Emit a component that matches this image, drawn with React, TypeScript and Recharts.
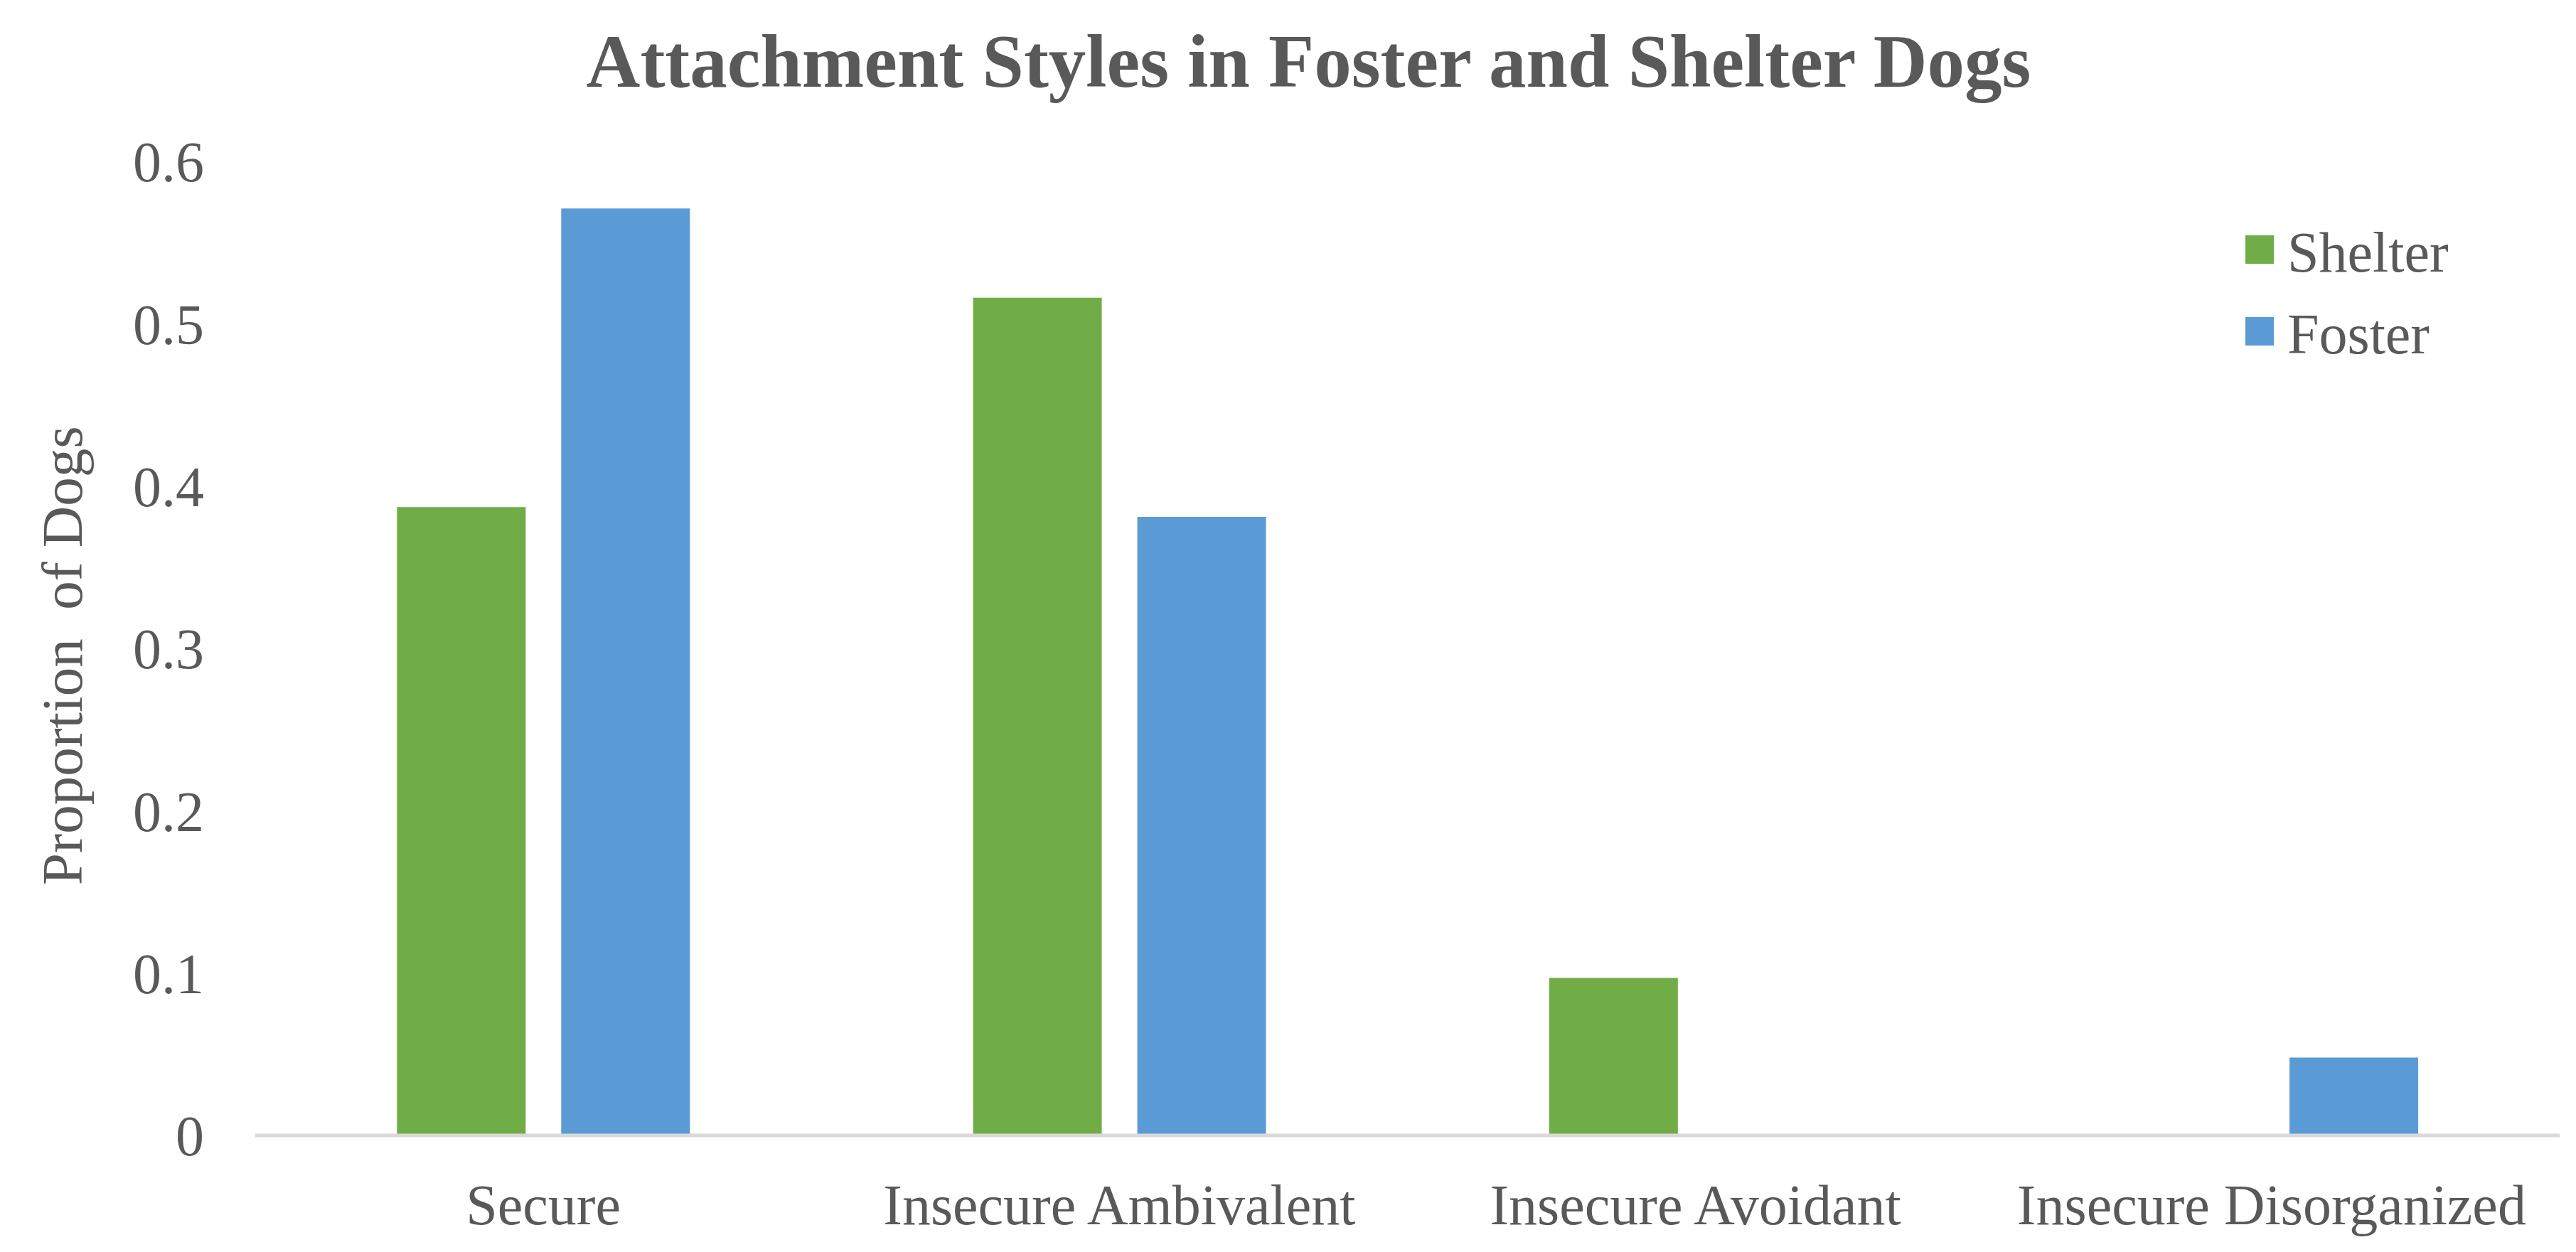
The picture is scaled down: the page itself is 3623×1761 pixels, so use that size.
import React from 'react';
import { BarChart, Bar, XAxis, YAxis, Legend, Label } from 'recharts';

const categories = ['Secure', 'Insecure Ambivalent', 'Insecure Avoidant', 'Insecure Disorganized'];
const shelterValues = [0.387, 0.516, 0.097, 0];
const fosterValues = [0.571, 0.381, 0, 0.048];
const yTicks = [0, 0.1, 0.2, 0.3, 0.4, 0.5, 0.6];
const seriesNames = { shelter: 'Shelter', foster: 'Foster' };
const legendOrder = ['Shelter', 'Foster'];
const titleText = 'Attachment Styles in Foster and Shelter Dogs';
const yLabelText = 'Proportion  of Dogs';

const data = categories.map((c, i) => ({
  category: c,
  shelter: shelterValues[i],
  foster: fosterValues[i],
}));

const FONT = '"Liberation Serif", "Times New Roman", serif';
const TEXT = '#595959';
const GREEN = '#70AD47';
const BLUE = '#5B9BD5';

const renderLegend = (props: any) => {
  const payload = [...(props.payload || [])].sort(
    (a: any, b: any) => legendOrder.indexOf(a.value) - legendOrder.indexOf(b.value)
  );
  return (
    <div style={{ fontFamily: FONT, fontSize: 80, color: TEXT }}>
      {payload.map((entry: any) => (
        <div
          key={entry.value}
          style={{ display: 'flex', alignItems: 'center', height: 115, lineHeight: '115px', whiteSpace: 'nowrap' }}
        >
          <span
            style={{
              display: 'inline-block',
              width: 40,
              height: 40,
              background: entry.color,
              marginRight: 19,
              marginTop: -10,
            }}
          />
          <span>{entry.value}</span>
        </div>
      ))}
    </div>
  );
};

const YLabel = (props: any) => {
  const vb = props.viewBox || { x: 0, y: 0, width: 0, height: 0 };
  const cx = vb.x + 80;
  const cy = vb.y + vb.height / 2 + 10;
  return (
    <text
      x={cx}
      y={cy}
      transform={`rotate(-90, ${cx}, ${cy})`}
      textAnchor="middle"
      dominantBaseline="central"
      fill={TEXT}
      fontFamily={FONT}
      fontSize={81}
      style={{ whiteSpace: 'pre' }}
    >
      {yLabelText}
    </text>
  );
};

export default function App() {
  return (
    <div style={{ position: 'relative', width: 3615, height: 1753, background: '#fff' }}>
      <div
        style={{
          position: 'absolute',
          top: 26,
          left: 25,
          width: 3615,
          textAlign: 'center',
          fontFamily: FONT,
          fontWeight: 'bold',
          fontSize: 105,
          lineHeight: '105px',
          color: TEXT,
          whiteSpace: 'nowrap',
          zIndex: 2,
        }}
      >
        {titleText}
      </div>
      <BarChart
        width={3615}
        height={1753}
        data={data}
        margin={{ top: 219, right: 23, bottom: 64, left: 0 }}
        barCategoryGap="24.6%"
        barGap={50}
      >
        <XAxis
          dataKey="category"
          interval={0}
          tickLine={false}
          tickSize={0}
          tickMargin={68}
          height={100}
          axisLine={{ stroke: '#D9D9D9', strokeWidth: 5 }}
          tick={{ fill: TEXT, fontSize: 80, fontFamily: FONT }}
        />
        <YAxis
          domain={[0, 0.6]}
          ticks={yTicks}
          interval={0}
          axisLine={false}
          tickLine={false}
          tickSize={0}
          tickMargin={72}
          width={351}
          tick={{ fill: TEXT, fontSize: 80, fontFamily: FONT }}
        >
          <Label content={<YLabel />} />
        </YAxis>
        <Legend
          layout="vertical"
          align="center"
          verticalAlign="middle"
          content={renderLegend}
          wrapperStyle={{ left: 3150, top: 290, width: 400 }}
        />
        <Bar dataKey="shelter" name={seriesNames.shelter} fill={GREEN} isAnimationActive={false} />
        <Bar dataKey="foster" name={seriesNames.foster} fill={BLUE} isAnimationActive={false} />
      </BarChart>
    </div>
  );
}
